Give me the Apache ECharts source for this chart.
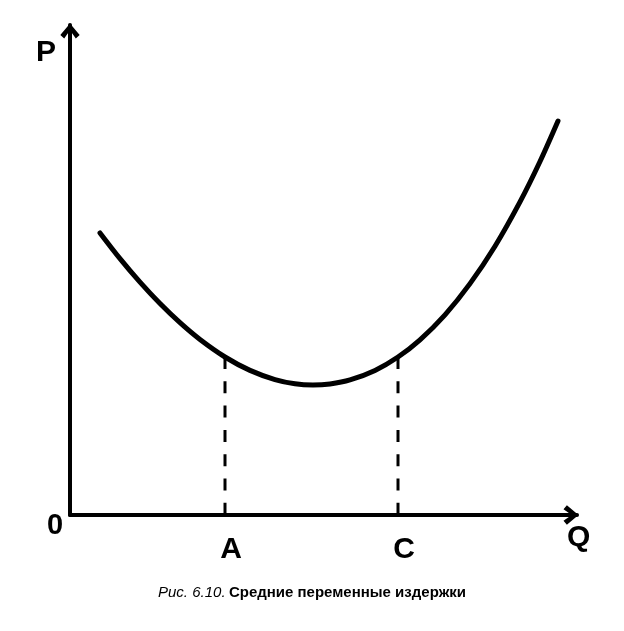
<!DOCTYPE html>
<html>
<head>
<meta charset="utf-8">
<script src="https://cdn.jsdelivr.net/npm/echarts@6/dist/echarts.min.js"></script>
<style>
html,body{margin:0;padding:0;background:#fff;}
#main{width:624px;height:631px;}
</style>
</head>
<body>
<div id="main"></div>
<script>
// Average variable cost curve (Q, P) in chart units
var curveQ = [30, 50, 70, 90, 110, 130, 155, 180, 205, 225, 243, 260, 280, 305, 328, 350, 375, 400, 425, 450, 470, 488];
var curveP = [282, 256.3, 232.8, 211.4, 192.3, 175.5, 158, 144.6, 135.4, 131.2, 130, 131.1, 135.1, 144.6, 158, 175.2, 200.2, 231.4, 268.8, 313.1, 353.5, 394];
// Marked quantities on the Q axis
var markNames = ['A', 'C'];
var markQ = [155, 328];
var markP = [158, 158];
var axisNames = { x: 'Q', y: 'P', origin: '0' };
var captionItalic = 'Рис. 6.10.';
var captionBold = 'Средние переменные издержки';

var chart = echarts.init(document.getElementById('main'), null, { renderer: 'canvas' });

var curveData = curveQ.map(function (q, i) { return [q, curveP[i]]; });
var arrow = 'path://M0,12 L10,0 L20,12 L16,15.5 L10,7 L4,15.5 Z';
var font = '"Liberation Sans", Arial, sans-serif';

var series = [{
  type: 'line',
  data: curveData,
  smooth: 0.3,
  showSymbol: false,
  lineStyle: { color: '#000', width: 5, cap: 'round' },
  z: 5,
  silent: true
}];
markQ.forEach(function (q, i) {
  series.push({
    type: 'line',
    data: [[q, markP[i]], [q, 0]],
    showSymbol: false,
    lineStyle: { color: '#000', width: 3, type: [12, 12.3] },
    silent: true,
    z: 3
  });
});
series.push({
  type: 'scatter',
  data: markQ.map(function (q, i) { return { value: [q, 0], name: markNames[i] }; }),
  symbolSize: 0,
  silent: true,
  itemStyle: { opacity: 1, color: '#000' },
  label: {
    show: true,
    position: 'bottom',
    distance: 20,
    offset: [6, 0],
    formatter: function (p) { return p.name; },
    color: '#000',
    opacity: 1,
    fontFamily: font,
    fontWeight: 'bold',
    fontSize: 30
  }
});

chart.setOption({
  animation: false,
  backgroundColor: '#fff',
  grid: { left: 70, top: 25, right: 47, bottom: 116, containLabel: false },
  xAxis: {
    type: 'value', min: 0, max: 507,
    axisLine: { show: true, onZero: false, lineStyle: { color: '#000', width: 4 },
      symbol: ['none', arrow], symbolSize: [20, 15], symbolOffset: [0, -6] },
    axisTick: { show: false }, axisLabel: { show: false }, splitLine: { show: false }
  },
  yAxis: {
    type: 'value', min: 0, max: 490,
    axisLine: { show: true, onZero: false, lineStyle: { color: '#000', width: 4 },
      symbol: ['none', arrow], symbolSize: [20, 15], symbolOffset: [0, -6] },
    axisTick: { show: false }, axisLabel: { show: false }, splitLine: { show: false }
  },
  graphic: [
    { type: 'text', left: 36, top: 38, style: { text: axisNames.y, font: 'bold 30px ' + font, fill: '#000' } },
    { type: 'text', left: 567, top: 523, style: { text: axisNames.x, font: 'bold 30px ' + font, fill: '#000' } },
    { type: 'text', left: 47, top: 511, style: { text: axisNames.origin, font: 'bold 29px ' + font, fill: '#000' } },
    { type: 'text', left: 'center', top: 585, style: {
        text: '{i|' + captionItalic + '} {b|' + captionBold + '}',
        rich: {
          i: { fontFamily: font, fontStyle: 'italic', fontSize: 15, fill: '#000' },
          b: { fontFamily: font, fontWeight: 'bold', fontSize: 15, fill: '#000' }
        }
    } }
  ],
  series: series
});
</script>
</body>
</html>
